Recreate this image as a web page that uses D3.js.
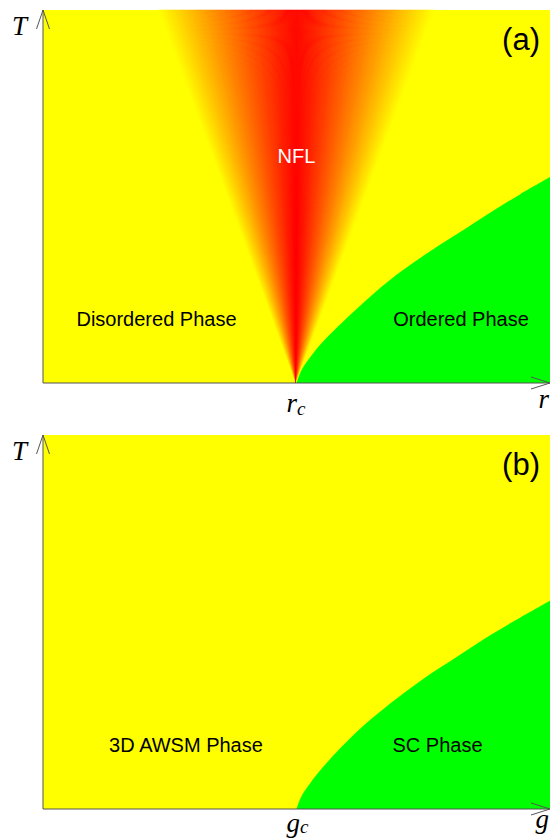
<!DOCTYPE html>
<html>
<head>
<meta charset="utf-8">
<script src="https://cdn.jsdelivr.net/npm/d3@7"></script>
<style>
  html, body { margin: 0; padding: 0; background: #fff; }
  svg { display: block; }
</style>
</head>
<body>
<div id="chart"></div>
<script>
// ---------------- data ----------------
const panelLabels = ["(a)", "(b)"];
const axisVarX = ["r", "g"];
const axisVarY = ["T", "T"];
const criticalVar = ["r", "g"];          // shown with subscript "c"
const leftPhase = ["Disordered Phase", "3D AWSM Phase"];
const rightPhase = ["Ordered Phase", "SC Phase"];
const fanLabel = ["NFL", null];           // quantum-critical fan only in panel (a)
const criticalPoint = 0.5;                // r_c (g_c) on the 0..1 control axis
const fanHalfWidth = 0.272;               // fan half width at T = 1 (control-axis units)
// phase boundary T_c(r)
const boundaryR  = [0.5, 0.51, 0.526, 0.551, 0.618, 0.683, 0.749, 0.815, 0.881, 0.94, 1.0];
const boundaryTa = [0, 0.035, 0.067, 0.109, 0.198, 0.275, 0.340, 0.398, 0.456, 0.505, 0.552];
const boundaryTb = [0, 0.035, 0.067, 0.110, 0.205, 0.280, 0.347, 0.406, 0.464, 0.511, 0.557];
const boundaries = [boundaryTa, boundaryTb];

// ---------------- layout ----------------
const W = 551, H = 839;
const left = 43, right = 550;
const panelTops = [10, 435];
const panelBottoms = [383, 809];
const labelDrop = [29, 23];   // lower panel's axis labels sit at the page edge
const leftPhaseX = [156.5, 186];
const rightPhaseX = [461, 437.5];

const svg = d3.select("#chart").append("svg")
  .attr("width", W).attr("height", H);

const x = d3.scaleLinear().domain([0, 1]).range([left, right]);
const sans = "'Liberation Sans', Arial, Helvetica, sans-serif";
const serif = "'Liberation Serif', 'Times New Roman', serif";

panelLabels.forEach((lab, i) => {
  const y = d3.scaleLinear().domain([0, 1]).range([panelBottoms[i], panelTops[i]]);
  const g = svg.append("g");

  // background (disordered phase)
  g.append("rect")
    .attr("x", x(0)).attr("y", y(1))
    .attr("width", x(1) - x(0)).attr("height", y(0) - y(1))
    .attr("fill", "#ffff00");

  // quantum critical fan
  if (fanLabel[i]) {
    const n = 260;
    const col = d3.interpolateRgb("#ff0000", "#ffff00");
    const wedges = d3.range(n).map(k => {
      const f0 = -1 + 2 * k / n, f1 = -1 + 2 * (k + 1) / n;
      return { f0, f1, fm: (f0 + f1) / 2 };
    });
    g.selectAll("path.fan").data(wedges).join("path")
      .attr("class", "fan")
      .attr("d", d => {
        const pts = [
          [x(criticalPoint), y(0)],
          [x(criticalPoint + fanHalfWidth * d.f0), y(1)],
          [x(criticalPoint + fanHalfWidth * d.f1), y(1)]
        ];
        return d3.line()(pts) + "Z";
      })
      .attr("fill", d => col(Math.pow(Math.abs(d.fm), 1.15)))
      .attr("stroke", d => col(Math.pow(Math.abs(d.fm), 1.15)))
      .attr("stroke-width", 0.6);
  }

  // ordered phase region
  const bdata = boundaryR.map((r, k) => ({ r, T: boundaries[i][k] }));
  g.append("path")
    .datum(bdata)
    .attr("d", d3.area()
      .x(d => x(d.r)).y0(y(0)).y1(d => y(d.T))
      .curve(d3.curveCatmullRom.alpha(0.5)))
    .attr("fill", "#00ff00");

  // axes with open arrowheads
  const axisColor = "#555";
  g.append("line")
    .attr("x1", x(0)).attr("y1", y(0)).attr("x2", x(0)).attr("y2", y(1))
    .attr("stroke", axisColor).attr("stroke-width", 1);
  g.append("polyline")
    .attr("points", [[x(0) - 6.5, y(1) + 19], [x(0), y(1)], [x(0) + 6.5, y(1) + 19]].join(" "))
    .attr("fill", "none").attr("stroke", axisColor).attr("stroke-width", 1);
  g.append("line")
    .attr("x1", x(0)).attr("y1", y(0)).attr("x2", x(1)).attr("y2", y(0))
    .attr("stroke", axisColor).attr("stroke-width", 1);
  g.append("polyline")
    .attr("points", [[x(1) - 19, y(0) - 6], [x(1), y(0)], [x(1) - 19, y(0) + 6]].join(" "))
    .attr("fill", "none").attr("stroke", axisColor).attr("stroke-width", 1);

  // axis variable labels
  g.append("text")
    .attr("x", 12).attr("y", y(1) + 25)
    .attr("font-family", serif).attr("font-style", "italic")
    .attr("font-size", 27).attr("fill", "#000")
    .text(axisVarY[i]);
  g.append("text")
    .attr("x", x(1) - 1).attr("y", y(0) + labelDrop[i] - 4)
    .attr("text-anchor", "end")
    .attr("font-family", serif).attr("font-style", "italic")
    .attr("font-size", 27).attr("fill", "#000")
    .text(axisVarX[i]);
  const crit = g.append("text")
    .attr("x", x(criticalPoint) - 10).attr("y", y(0) + labelDrop[i])
    .attr("font-family", serif).attr("font-style", "italic")
    .attr("font-size", 27).attr("fill", "#000");
  crit.append("tspan").text(criticalVar[i]);
  crit.append("tspan").attr("font-size", 19).attr("dy", i === 0 ? 3 : 1).text("c");

  // panel label
  g.append("text")
    .attr("x", 540).attr("y", y(1) + 40)
    .attr("text-anchor", "end")
    .attr("font-family", sans).attr("font-size", 31).attr("fill", "#000")
    .text(lab);

  // phase labels
  g.append("text")
    .attr("x", leftPhaseX[i]).attr("y", y(0) - 57)
    .attr("text-anchor", "middle")
    .attr("font-family", sans).attr("font-size", 20).attr("fill", "#000")
    .text(leftPhase[i]);
  g.append("text")
    .attr("x", rightPhaseX[i]).attr("y", y(0) - 57)
    .attr("text-anchor", "middle")
    .attr("font-family", sans).attr("font-size", 20).attr("fill", "#000")
    .text(rightPhase[i]);

  if (fanLabel[i]) {
    g.append("text")
      .attr("x", x(criticalPoint)).attr("y", y(0) - 220)
      .attr("text-anchor", "middle")
      .attr("font-family", sans).attr("font-size", 20).attr("fill", "#fff")
      .text(fanLabel[i]);
  }
});
</script>
</body>
</html>
